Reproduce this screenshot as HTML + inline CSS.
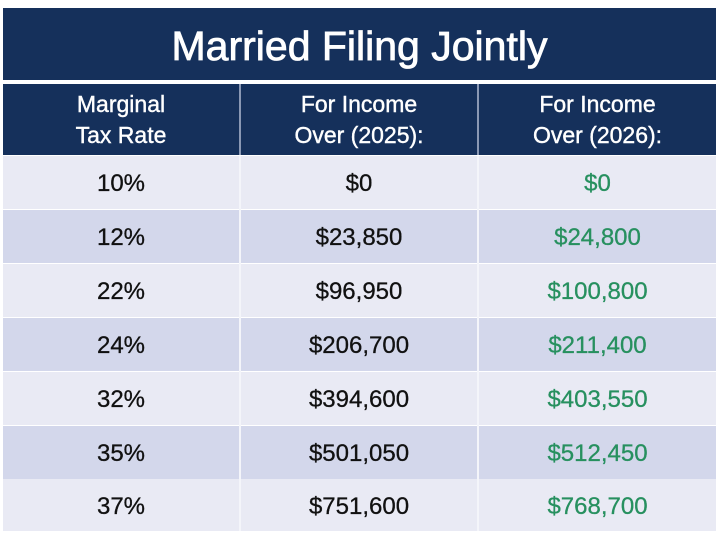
<!DOCTYPE html>
<html><head><style>
body{margin:0;width:720px;height:541px;background:#fff;position:relative;overflow:hidden;font-family:"Liberation Sans",sans-serif}
.t{position:absolute;left:3px;top:8px;width:713px;height:72px;background:#15305b;color:#fff;font-size:41px;text-align:center;line-height:76px;-webkit-text-stroke:0.8px #fff}
.h{position:absolute;top:84px;height:71px;background:#15305b;color:#fff;font-size:23px;text-align:center;line-height:31px;padding-top:5px;box-sizing:border-box;-webkit-text-stroke:0.4px #fff}
.r{position:absolute;left:3px;width:713px;height:53px;font-size:24px;color:#111}
.r div{position:absolute;top:0;height:53px;line-height:55px;text-align:center;-webkit-text-stroke:0.3px currentColor}
.a{background:#e9eaf4}.b{background:#d3d7eb}
.g{color:#27905f}
.c1{left:0;width:236px}.c2{left:238px;width:236px}.c3{left:476px;width:237px}
.v{position:absolute;top:84px;width:2px;height:447px;background:#f4f5fa}
</style></head><body>
<div class="t">Married Filing Jointly</div>
<div class="h" style="left:3px;width:236px">Marginal<br>Tax Rate</div>
<div class="h" style="left:241px;width:236px">For Income<br>Over (2025):</div>
<div class="h" style="left:479px;width:237px">For Income<br>Over (2026):</div>
<div class="r a" style="top:156px"><div class="c1">10%</div><div class="c2">$0</div><div class="c3 g">$0</div></div>
<div class="r b" style="top:210px"><div class="c1">12%</div><div class="c2">$23,850</div><div class="c3 g">$24,800</div></div>
<div class="r a" style="top:264px"><div class="c1">22%</div><div class="c2">$96,950</div><div class="c3 g">$100,800</div></div>
<div class="r b" style="top:318px"><div class="c1">24%</div><div class="c2">$206,700</div><div class="c3 g">$211,400</div></div>
<div class="r a" style="top:372px"><div class="c1">32%</div><div class="c2">$394,600</div><div class="c3 g">$403,550</div></div>
<div class="r b" style="top:426px"><div class="c1">35%</div><div class="c2">$501,050</div><div class="c3 g">$512,450</div></div>
<div class="r a" style="top:479px;height:52px"><div class="c1">37%</div><div class="c2">$751,600</div><div class="c3 g">$768,700</div></div>
<div class="v" style="left:239px;background:#8a98b4;height:71px"></div>
<div class="v" style="left:477px;background:#8a98b4;height:71px"></div>
<div class="v" style="left:239px;top:156px;height:375px"></div>
<div class="v" style="left:477px;top:156px;height:375px"></div>
</body></html>
